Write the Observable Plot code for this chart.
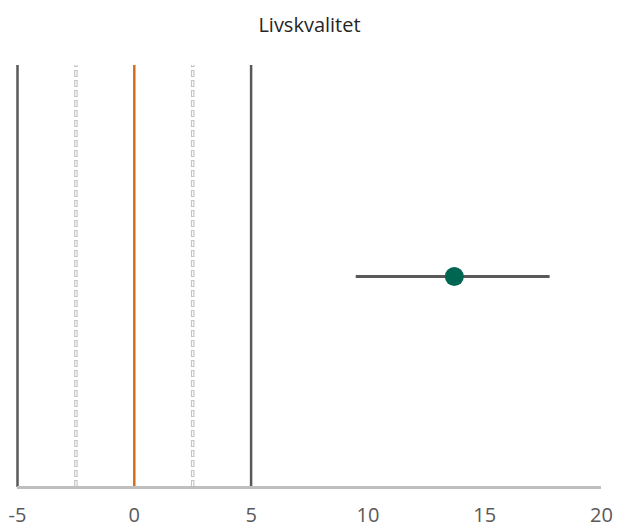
<!DOCTYPE html>
<html>
<head>
<meta charset="utf-8">
<script src="https://cdn.jsdelivr.net/npm/d3@7"></script>
<script src="https://cdn.jsdelivr.net/npm/@observablehq/plot@0.6"></script>
<style>
  body { margin: 0; background: #fff; font-family: "Open Sans", "Liberation Sans", sans-serif; }
  #title { height: 45px; line-height: 49px; text-align: center; font-size: 20px; color: #262626; padding-left: 2px; }
  svg { display: block; }
</style>
</head>
<body>
<div id="title">Livskvalitet</div>
<div id="chart"></div>
<script>
const title = "Livskvalitet";
const xTicks = [-5, 0, 5, 10, 15, 20];
const solidLines = [-5, 5];
const dashedLines = [-2.5, 2.5];
const zeroLine = [0];
const estimate = [{label: "Livskvalitet", value: 13.7, lower: 9.5, upper: 17.8}];

const plot = Plot.plot({
  width: 617,
  height: 483,
  marginLeft: 17,
  marginRight: 16,
  marginTop: 20,
  marginBottom: 41,
  style: {fontFamily: "'Open Sans', 'Liberation Sans', sans-serif", fontSize: "20px", color: "#595959", background: "#fff"},
  x: {domain: [-5, 20], ticks: xTicks, tickFormat: d => String(d)},
  y: {domain: [0, 1], axis: null},
  marks: [
    Plot.ruleX(dashedLines, {x: d => d, y1: 0, y2: 1, stroke: "#c4c4c4", strokeWidth: 3.5, strokeDasharray: "7,3"}),
    Plot.ruleX(dashedLines, {x: d => d, y1: 0, y2: 1, stroke: "#ffffff", strokeWidth: 1.2, strokeDasharray: "5,5", strokeDashoffset: -1}),
    Plot.ruleX(solidLines, {x: d => d, y1: 0, y2: 1, stroke: "#595959", strokeWidth: 2.5}),
    Plot.ruleX(zeroLine, {x: d => d, y1: 0, y2: 1, stroke: "#d46e1c", strokeWidth: 2.5}),
    Plot.ruleY([0], {stroke: "#bfbfbf", strokeWidth: 3}),
    Plot.ruleY(estimate, {x1: "lower", x2: "upper", y: () => 0.5, stroke: "#595959", strokeWidth: 3}),
    Plot.dot(estimate, {x: "value", y: () => 0.5, r: 9.5, fill: "#006652", stroke: "none"}),
    Plot.axisX({ticks: xTicks, tickSize: 0, tickPadding: 20, fontSize: 20, fill: "#595959", tickFormat: d => String(d)})
  ]
});
document.getElementById("chart").appendChild(plot);
</script>
</body>
</html>
